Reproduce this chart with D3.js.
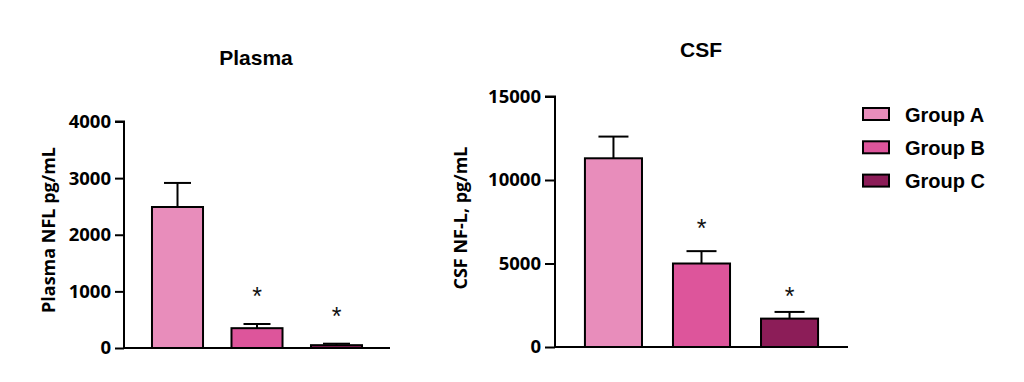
<!DOCTYPE html>
<html><head><meta charset="utf-8">
<script src="https://cdn.jsdelivr.net/npm/d3@7"></script>
<style>body{margin:0;background:#fff}svg{display:block}</style>
</head><body>
<svg id="c" width="1024" height="382"></svg>
<script>
const groups = ["Group A","Group B","Group C"];
const colors = ["#E88DBB","#DD559B","#8C1D58"];
const plasmaMean = [2490, 350, 50];
const plasmaErr  = [2915, 424, 76];
const plasmaStarAt = [null, 1000, 660];
const plasmaTicks = [0,1000,2000,3000,4000];
const csfMean = [11300, 5000, 1700];
const csfErr  = [12600, 5740, 2100];
const csfStarAt = [null, 7400, 3360];
const csfTicks = [0,5000,10000,15000];

const svg = d3.select("#c");
const tickFont = "'Open Sans', sans-serif";
const boldFont = "'Liberation Sans', Arial, sans-serif";

function panel(o){
  const g = svg.append("g");
  const y = d3.scaleLinear().domain([0,o.max]).range([o.y0,o.y1]);
  const x = d3.scaleBand().domain(groups).range([o.xl,o.xr]).paddingInner(o.pi).paddingOuter(o.po);
  g.selectAll("rect.bar").data(o.mean).enter().append("rect")
    .attr("x",(d,i)=>x(groups[i])).attr("width",x.bandwidth())
    .attr("y",d=>y(d)).attr("height",d=>y(0)-y(d))
    .attr("fill",(d,i)=>colors[i]).attr("stroke","#000").attr("stroke-width",2);
  const cw = o.cap;
  o.err.forEach((e,i)=>{
    const cx = x(groups[i])+x.bandwidth()/2;
    g.append("line").attr("x1",cx).attr("x2",cx).attr("y1",y(o.mean[i])).attr("y2",y(e)).attr("stroke","#000").attr("stroke-width",2);
    g.append("line").attr("x1",cx-cw/2).attr("x2",cx+cw/2).attr("y1",y(e)).attr("y2",y(e)).attr("stroke","#000").attr("stroke-width",2);
    if(o.star[i]!=null){
      g.append("text").attr("x",cx).attr("y",y(o.star[i])+14).attr("text-anchor","middle")
        .attr("font-family",boldFont).attr("font-size",25).attr("fill","#111").text("*");
    }
  });
  const ya = g.append("g").attr("transform",`translate(${o.ax},0)`)
    .call(d3.axisLeft(y).tickValues(o.ticks).tickSize(o.tl).tickPadding(4).tickFormat(d3.format("d")));
  ya.select(".domain").attr("stroke-width",2).attr("d",`M-${o.tl},${o.y1}H0V${o.y0}`);
  ya.selectAll(".tick line").attr("stroke-width",2);
  ya.selectAll(".tick text").attr("font-family",tickFont).attr("font-weight","bold").attr("font-size",18.5).attr("fill","#000");
  g.append("line").attr("x1",o.ax).attr("x2",o.xe).attr("y1",y(0)).attr("y2",y(0)).attr("stroke","#000").attr("stroke-width",2);
  g.append("text").attr("x",o.tx).attr("y",o.ty).attr("text-anchor","middle")
    .attr("font-family",boldFont).attr("font-weight","bold").attr("font-size",21).text(o.title);
  g.append("text").attr("transform",`translate(${o.lx},${o.ly}) rotate(-90)`).attr("text-anchor","middle")
    .attr("font-family",tickFont).attr("font-weight","bold").attr("font-size",18).text(o.ylabel);
}

panel({max:4000,y0:348,y1:121.5,ax:124,xe:390,xl:124,xr:390,pi:0.358,po:0.352,cap:27,tl:9,
  mean:plasmaMean,err:plasmaErr,star:plasmaStarAt,ticks:plasmaTicks,
  title:"Plasma",tx:256,ty:65,ylabel:"Plasma NFL pg/mL",lx:55,ly:230});
panel({max:15000,y0:347,y1:96.5,ax:555,xe:848,xl:555,xr:848,pi:0.352,po:0.34,cap:30,tl:10,
  mean:csfMean,err:csfErr,star:csfStarAt,ticks:csfTicks,
  title:"CSF",tx:701,ty:56.5,ylabel:"CSF NF-L, pg/mL",lx:467,ly:218});

const lg = svg.append("g");
groups.forEach((gname,i)=>{
  const cy = 114 + i*33.3;
  lg.append("rect").attr("x",863).attr("y",cy-6).attr("width",26).attr("height",12)
    .attr("fill",colors[i]).attr("stroke","#000").attr("stroke-width",2);
  lg.append("text").attr("x",905).attr("y",cy+7.5).attr("font-family",boldFont).attr("font-weight","bold")
    .attr("font-size",20).text(gname);
});
</script>
</body></html>
